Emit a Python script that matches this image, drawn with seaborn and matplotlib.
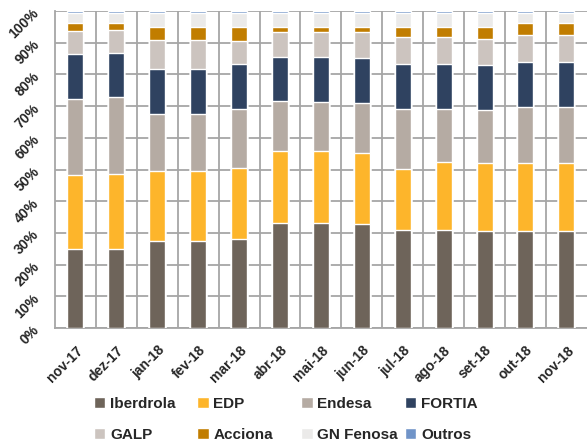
import numpy as np
import pandas as pd
import seaborn as sns
import matplotlib.pyplot as plt
from matplotlib.patches import Patch

# shares per supplier (%)
months = ['nov-17', 'dez-17', 'jan-18', 'fev-18', 'mar-18', 'abr-18', 'mai-18',
          'jun-18', 'jul-18', 'ago-18', 'set-18', 'out-18', 'nov-18']
iberdrola = [24.9, 24.9, 27.5, 27.5, 28.0, 33.2, 33.2, 32.9, 31.0, 31.0, 30.6, 30.6, 30.6]
edp = [23.3, 23.7, 22.1, 22.1, 22.4, 22.5, 22.5, 22.4, 19.3, 21.3, 21.3, 21.3, 21.3]
endesa = [23.9, 24.2, 17.8, 17.8, 18.6, 15.8, 15.6, 15.6, 18.7, 16.7, 16.8, 17.8, 17.8]
fortia = [14.2, 14.1, 14.4, 14.4, 14.4, 14.1, 14.2, 14.3, 14.3, 14.3, 14.3, 14.3, 14.3]
galp = [7.4, 7.1, 9.1, 9.1, 7.1, 7.8, 7.8, 8.1, 8.5, 8.5, 8.3, 8.5, 8.5]
acciona = [2.5, 2.2, 4.1, 4.1, 4.5, 1.6, 1.7, 1.7, 3.1, 3.1, 3.6, 3.7, 3.7]
gn_fenosa = [3.3, 3.3, 4.5, 4.5, 4.5, 4.5, 4.5, 4.5, 4.6, 4.6, 4.6, 3.3, 3.3]
outros = [0.5] * 13

names = ['Iberdrola', 'EDP', 'Endesa', 'FORTIA', 'GALP', 'Acciona', 'GN Fenosa', 'Outros']
colors = ['#6E645A', '#FDB52B', '#B5ABA3', '#2F4260', '#CCC4BF', '#C17D00', '#EBEAE9', '#7094C8']

df = pd.DataFrame({'Iberdrola': iberdrola, 'EDP': edp, 'Endesa': endesa, 'FORTIA': fortia,
                   'GALP': galp, 'Acciona': acciona, 'GN Fenosa': gn_fenosa, 'Outros': outros},
                  index=months)
tops = df.cumsum(axis=1)

sns.set_style('white')
plt.rcParams['font.family'] = ['Liberation Sans', 'DejaVu Sans']

fig = plt.figure(figsize=(5.87, 4.42), dpi=100)
ax = fig.add_axes([0.0937, 0.258, 0.906, 0.717])

# stacked bars: draw cumulative totals from the top segment down
for name, col in reversed(list(zip(names, colors))):
    d = pd.DataFrame({'month': months, 'top': tops[name].values})
    sns.barplot(data=d, x='month', y='top', color=col, saturation=1,
                width=0.39, errorbar=None, ax=ax, zorder=3)

ax.set_xlim(-0.5, 12.5)
ax.set_ylim(0, 100)
ax.set_xlabel('')
ax.set_ylabel('')

grid_col = '#A6A6A6'
ax.set_yticks(np.arange(0, 101, 10))
ax.set_yticklabels([f'{v}%' for v in range(0, 101, 10)], rotation=45, ha='right',
                   va='center', rotation_mode='anchor', fontsize=10, fontweight='bold')
ax.set_xticks(range(len(months)))
ax.set_xticklabels(months, rotation=45, ha='right', va='top', rotation_mode='anchor',
                   fontsize=10, fontweight='bold')
ax.set_xticks(np.arange(0.5, 12.5, 1), minor=True)
ax.tick_params(axis='y', length=0, pad=13)
ax.tick_params(axis='x', which='both', length=0, pad=11)
ax.grid(True, axis='y', color=grid_col, lw=1.3, zorder=0)
ax.grid(True, axis='x', which='minor', color=grid_col, lw=1.3, zorder=0)
ax.grid(False, axis='x', which='major')
ax.set_axisbelow(True)
for s in ['top', 'right']:
    ax.spines[s].set_visible(False)
for s in ['left', 'bottom']:
    ax.spines[s].set_color(grid_col)
    ax.spines[s].set_linewidth(1.3)

# legend: four equal-width columns, two rows each
xs = [0.160, 0.336, 0.513, 0.690]
for i, x in enumerate(xs):
    handles = [Patch(facecolor=colors[i], label=names[i]),
               Patch(facecolor=colors[i + 4], label=names[i + 4])]
    fig.legend(handles=handles, loc='upper left', bbox_to_anchor=(x, 0.102),
               frameon=False, borderpad=0, borderaxespad=0, handlelength=0.75,
               handleheight=0.75, handletextpad=0.3, labelspacing=1.1,
               prop={'size': 11, 'weight': 'bold'})

fig.savefig('out.png', dpi=100)
